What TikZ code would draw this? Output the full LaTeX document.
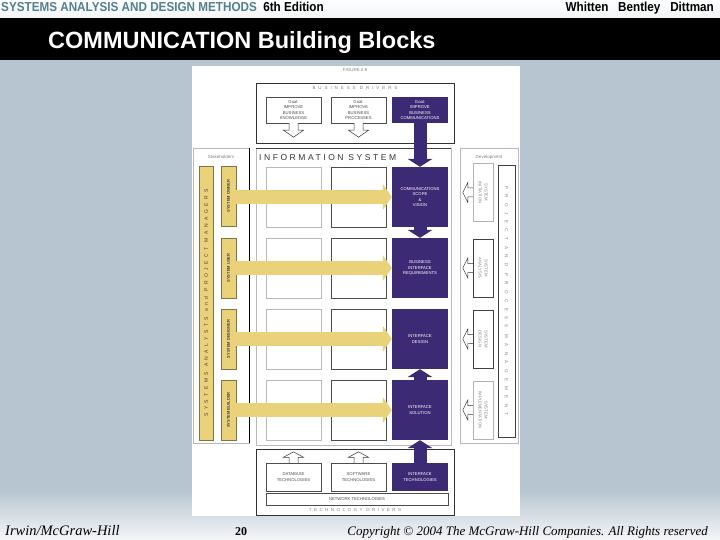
\documentclass[tikz,border=0pt]{standalone}
\usepackage{fontspec}
\setmainfont{Liberation Sans}
\newfontfamily\headfont[FakeStretch=0.9]{Liberation Sans}
\newfontfamily\footfont{Liberation Serif}
\usetikzlibrary{arrows.meta}
\usetikzlibrary{positioning}
\usetikzlibrary{calc}
\definecolor{slidebg}{HTML}{B7C5D0}
\definecolor{ispurple}{HTML}{3C2A74}
\definecolor{isyellow}{HTML}{EAD27B}
\definecolor{headteal}{HTML}{52808E}
\newcommand{\cellfont}{\fontsize{4.2}{5.2}\selectfont}
\newcommand{\spacedtext}[2]{\addfontfeatures{LetterSpace=#1}#2}

\tikzset{
  panel/.style={draw=gray!55,fill=white,inner sep=0pt},
  cell/.style={draw=#1,fill=white,minimum width=55pt,minimum height=60pt,inner sep=0pt},
  goalbox/.style={draw=black!70,fill=white,minimum width=55pt,minimum height=26pt,inner sep=0pt,align=center,font=\cellfont,text=black!70},
  purplebox/.style={fill=ispurple,text=white,minimum width=56pt,minimum height=60pt,inner sep=0pt,align=center,font=\cellfont},
  techbox/.style={draw=black!70,fill=white,minimum width=55pt,minimum height=28pt,inner sep=0pt,align=center,font=\cellfont,text=black!70},
  ybar/.style={fill=isyellow,draw=isyellow!55!black,line width=0.5pt,inner sep=0pt,minimum width=15pt,minimum height=60pt},
  phasebox/.style={draw=#1,fill=white,minimum width=20pt,minimum height=58pt,inner sep=0pt,align=center,font=\cellfont,text=gray},
  yarrow/.style={draw=isyellow,line width=14pt,-{Triangle[length=9pt,width=26pt,line width=0pt]}},
  parrow/.style={draw=ispurple,line width=13pt,-{Triangle[length=8pt,width=25pt,line width=0pt]}},
  hollowline/.style={draw=black!80,fill=white,line width=0.5pt},
  pics/hollowarr/.style={code={\filldraw[hollowline] (-4.5,0) -- (-4.5,#1/2) -- (-10,#1/2) -- (0,#1) -- (10,#1/2) -- (4.5,#1/2) -- (4.5,0);}},
  graylabel/.style={inner sep=0pt,text=gray,font=\fontsize{4.5}{5}\selectfont},
  headtext/.style={inner sep=0pt,font=\headfont\bfseries\fontsize{13}{14}\selectfont}
}

\begin{document}
\begin{tikzpicture}[x=1pt,y=-1pt]
  \useasboundingbox (0,0) rectangle (720,540);
  \fill[slidebg] (0,60) rectangle (720,540);
  \shade[top color=slidebg,bottom color=white!85!slidebg] (0,490) rectangle (720,540);
  \shade[top color=white,bottom color=white!80!slidebg] (0,0) rectangle (720,18);
  \fill[black] (0,18) rectangle (720,60);

  \node[headtext,anchor=base west,text=headteal] (book) at (1,12) {SYSTEMS ANALYSIS AND DESIGN METHODS};
  \node[headtext,base right=6pt of book] (edition) {6th Edition};
  \node[headtext,anchor=base east] (authors) at (714,12) {Whitten\ \ \ Bentley\ \ \ Dittman};
  \node[anchor=base west,inner sep=0pt,text=white,font=\bfseries\fontsize{23.5}{26}\selectfont] (title) at (48,49) {COMMUNICATION Building Blocks};

  \fill[white] (192,66) rectangle (520,516);
  \node[graylabel] (figno) at (355,70) {FIGURE 2.6};

  \node[draw=black!80,fill=white,minimum width=198pt,minimum height=60pt,inner sep=0pt] (busdrv) at (355,113) {};
  \node[graylabel] (buslabel) at (355,88) {\spacedtext{65}{BUSINESS DRIVERS}};
  \node[goalbox] (goal1) at (293.5,110) {Goal:\\IMPROVE\\BUSINESS\\KNOWLEDGE};
  \node[goalbox] (goal2) at (358.5,110) {Goal:\\IMPROVE\\BUSINESS\\PROCESSES};
  \node[purplebox,minimum height=26pt] (goal3) at (420,110) {Goal:\\IMPROVE\\BUSINESS\\COMMUNICATIONS};
  \pic at (goal1.south) {hollowarr=14};
  \pic at (goal2.south) {hollowarr=14};

  \node[panel,minimum width=56pt,minimum height=295pt] (stake) at (221,295.5) {};
  \draw[line width=0.8pt] (stake.north east) -- (stake.south east);
  \node[panel,minimum width=195pt,minimum height=297pt] (info) at (353.5,296.5) {};
  \draw[black!75] (info.north west) -- (info.north east);
  \node[panel,minimum width=58pt,minimum height=295pt] (devel) at (489,295.5) {};
  \node[graylabel] (stakelabel) at (221,157) {Stakeholders};
  \node[graylabel] (devlabel) at (489,157) {Development};
  \node[anchor=west,inner sep=0pt,text=black!80,font=\fontsize{8.5}{9}\selectfont] (infolabel) at (259,158) {\spacedtext{30}{INFORMATION SYSTEM}};

  \foreach \r/\y in {1/197,2/268,3/339,4/410} {
    \node[cell=gray!55] (c1\r) at (293.5,\y) {};
    \node[cell=black!70] (c2\r) at (358.5,\y) {};
  }
  \node[purplebox] (comm) at (420,197) {COMMUNICATIONS\\SCOPE\\\&\\VISION};
  \node[purplebox] (bir) at (420,268) {BUSINESS\\INTERFACE\\REQUIREMENTS};
  \node[purplebox] (idesign) at (420,339) {INTERFACE\\DESIGN};
  \node[purplebox] (isol) at (420,410) {INTERFACE\\SOLUTION};

  \node[ybar,minimum width=14pt,minimum height=274pt] (analysts) at (206,303) {};
  \node[rotate=90,inner sep=0pt,text=black!75,font=\fontsize{5}{6}\selectfont] (analystlabel) at (analysts) {\spacedtext{70}{SYSTEMS ANALYSTS and PROJECT MANAGERS}};
  \node[ybar] (owner) at (228.5,196) {};
  \node[ybar] (user) at (228.5,268) {};
  \node[ybar] (designer) at (228.5,339) {};
  \node[ybar] (builder) at (228.5,410) {};
  \foreach \b/\t in {owner/SYSTEM OWNER,user/SYSTEM USER,designer/SYSTEM DESIGNER,builder/SYSTEM BUILDER}
    \node[rotate=90,inner sep=0pt,text=black!75,font=\fontsize{4}{5}\selectfont\bfseries] at (\b) {\t};

  \foreach \s/\t in {owner/comm,user/bir,designer/idesign,builder/isol}
    \draw[yarrow] (\s.east |- \t.west) -- (\t.west);

  \draw[parrow] (goal3.south) -- (comm.north);
  \draw[parrow] (comm.south) -- (bir.north);
  \draw[parrow] (isol.north) -- (idesign.south);

  \node[phasebox=gray!60] (init) at (483,192.5) {\rotatebox{-90}{\shortstack{SYSTEM\\INITIATION}}};
  \node[phasebox=black!75] (anal) at (483,268) {\rotatebox{-90}{\shortstack{SYSTEM\\ANALYSIS}}};
  \node[phasebox=black!75] (desg) at (483,339) {\rotatebox{-90}{\shortstack{SYSTEM\\DESIGN}}};
  \node[phasebox=gray!60] (impl) at (483,410) {\rotatebox{-90}{\shortstack{SYSTEM\\IMPLEMENTATION}}};
  \foreach \p in {init,anal,desg,impl}
    \pic[rotate=-90] at (\p.west) {hollowarr=10};
  \node[draw=black!75,fill=white,minimum width=17pt,minimum height=272pt,inner sep=0pt] (projmgmt) at (506.5,301) {};
  \node[rotate=-90,inner sep=0pt,text=gray,font=\fontsize{4.5}{5}\selectfont] (pmlabel) at (projmgmt) {\spacedtext{120}{PROJECT AND PROCESS MANAGEMENT}};

  \node[draw=black!80,fill=white,minimum width=198pt,minimum height=66pt,inner sep=0pt] (techdrv) at (355,482) {};
  \node[techbox] (dbtech) at (293.5,477) {DATABASE\\TECHNOLOGIES};
  \node[techbox] (swtech) at (358.5,477) {SOFTWARE\\TECHNOLOGIES};
  \node[purplebox,minimum height=28pt] (itech) at (420,477) {INTERFACE\\TECHNOLOGIES};
  \node[techbox,minimum width=182pt,minimum height=12pt] (nettech) at (357,499) {NETWORK TECHNOLOGIES};
  \node[graylabel] (techlabel) at (355,510) {\spacedtext{55}{TECHNOLOGY DRIVERS}};
  \pic[rotate=180] at (dbtech.north) {hollowarr=11};
  \pic[rotate=180] at (swtech.north) {hollowarr=11};
  \draw[parrow] (itech.north) -- (isol.south);

  \node[anchor=base west,inner sep=0pt,font=\footfont\itshape\fontsize{14.5}{16}\selectfont] (publisher) at (5,535) {Irwin/McGraw-Hill};
  \node[anchor=base west,inner sep=0pt,font=\footfont\bfseries\fontsize{12}{14}\selectfont] (pageno) at (235,535) {20};
  \node[anchor=base east,inner sep=0pt,font=\footfont\itshape\fontsize{13}{14}\selectfont] (copyright) at (708,535) {Copyright \textcopyright{} 2004 The McGraw-Hill Companies. All Rights reserved};
\end{tikzpicture}
\end{document}
